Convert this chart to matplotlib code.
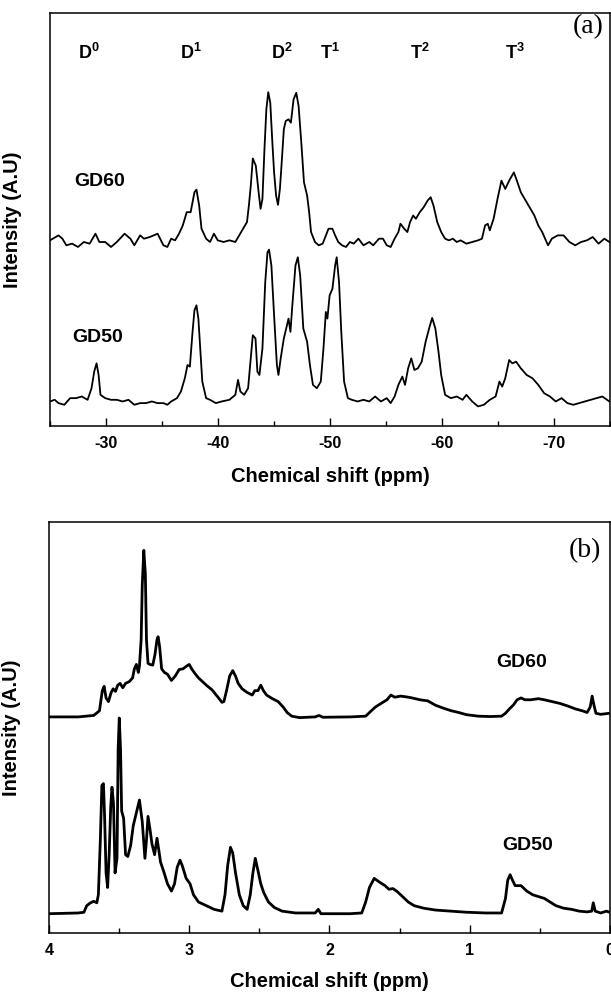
import matplotlib
matplotlib.use("Agg")
import matplotlib.pyplot as plt
from matplotlib.ticker import MultipleLocator

plt.rcParams['font.family'] = ['Liberation Sans', 'DejaVu Sans']
plt.rcParams['font.weight'] = 'bold'
plt.rcParams['axes.unicode_minus'] = False
plt.rcParams['mathtext.fontset'] = 'custom'
plt.rcParams['mathtext.rm'] = 'Liberation Sans:bold'
plt.rcParams['mathtext.bf'] = 'Liberation Sans:bold'

# ---------------- (a) 29Si NMR ----------------
si_ppm_gd60 = [-25.0, -25.76, -26.11, -26.46, -26.98, -27.50, -28.02, -28.54, -29.06, -29.41,
               -29.93, -30.45, -30.97, -31.66, -32.18, -32.53, -33.05, -33.39, -33.91, -34.61,
               -35.13, -35.48, -35.82, -36.17, -36.52, -36.86, -37.21, -37.56, -37.90, -38.08,
               -38.32, -38.53, -38.94, -39.29, -39.64, -39.98, -40.50, -41.02, -41.55, -41.89,
               -42.24, -42.59, -42.76, -42.93, -43.11, -43.38, -43.63, -43.80, -43.97, -44.15,
               -44.32, -44.49, -44.67, -44.84, -45.01, -45.19, -45.36, -45.53, -45.71, -45.88,
               -46.05, -46.30, -46.51, -46.75, -46.99, -47.20, -47.44, -47.68, -47.96, -48.14,
               -48.31, -48.66, -49.00, -49.35, -49.87, -50.22, -50.46, -50.74, -51.08, -51.43,
               -51.78, -52.12, -52.54, -52.99, -53.51, -53.86, -54.38, -54.73, -55.07, -55.42,
               -55.77, -56.11, -56.29, -56.63, -56.91, -57.15, -57.43, -57.67, -58.02, -58.37,
               -58.72, -58.99, -59.24, -59.58, -59.93, -60.28, -60.62, -60.97, -61.32, -61.66,
               -62.18, -62.70, -63.22, -63.57, -63.85, -64.09, -64.27, -64.61, -64.96, -65.31,
               -65.65, -66.00, -66.42, -66.69, -67.04, -67.56, -67.91, -68.25, -68.60, -68.95,
               -69.47, -69.81, -70.34, -70.86, -71.38, -71.90, -72.42, -72.94, -73.46, -73.98,
               -74.50, -74.95]
si_int_gd60 = [0.5, 2.0, 1.0, -1.0, -0.5, -1.5, 0.0, -0.5, 2.5, 0.0,
               0.0, -1.5, 0.0, 2.5, 1.0, -1.0, 2.0, 1.0, 1.5, 2.5,
               -1.0, -1.5, 1.0, 0.5, 2.5, 5.0, 9.0, 9.0, 15.0, 15.8,
               11.0, 4.0, 1.0, 0.0, 2.5, 0.5, 0.0, 0.5, 0.0, 2.0,
               4.0, 6.0, 11.0, 17.0, 25.2, 23.0, 15.0, 10.0, 13.0, 28.0,
               40.0, 45.2, 42.0, 31.0, 21.0, 14.0, 11.2, 16.0, 25.0, 34.0,
               36.5, 37.0, 36.0, 43.0, 45.0, 41.0, 30.0, 18.0, 14.0, 9.0,
               3.0, 0.0, -1.0, -0.5, 4.0, 4.0, 2.0, 0.0, -1.0, -1.5,
               0.0, -0.5, 1.0, -1.0, 0.0, -1.0, 1.0, 1.0, -1.0, -1.5,
               1.0, 3.0, 5.5, 4.0, 3.0, 6.0, 8.0, 7.0, 9.0, 10.5,
               12.5, 13.5, 11.0, 6.0, 3.0, 1.0, 0.5, 1.0, 0.0, 0.5,
               -0.5, 0.0, 0.5, 1.0, 5.0, 5.5, 3.5, 7.0, 13.0, 18.5,
               16.0, 18.5, 21.0, 18.5, 15.0, 12.0, 10.0, 8.0, 5.0, 3.0,
               -1.0, 1.0, 2.0, 2.0, 0.0, -1.0, 0.0, 0.5, 1.5, -0.5,
               1.0, 0.0]

si_ppm_gd50 = [-25.0, -25.42, -25.76, -26.28, -26.80, -27.32, -27.84, -28.36, -28.71, -28.95,
               -29.16, -29.34, -29.51, -29.93, -30.45, -30.97, -31.49, -32.01, -32.53, -33.05,
               -33.57, -34.09, -34.61, -35.13, -35.48, -35.82, -36.34, -36.69, -37.04, -37.28,
               -37.49, -37.73, -37.90, -38.08, -38.25, -38.42, -38.60, -38.94, -39.29, -39.81,
               -40.33, -41.02, -41.55, -41.79, -42.00, -42.34, -42.69, -42.93, -43.11, -43.35,
               -43.52, -43.70, -43.97, -44.22, -44.42, -44.56, -44.77, -45.01, -45.26, -45.40,
               -45.60, -45.88, -46.16, -46.30, -46.47, -46.64, -46.92, -47.13, -47.34, -47.62,
               -47.96, -48.21, -48.48, -48.83, -49.18, -49.42, -49.63, -49.77, -49.97, -50.22,
               -50.46, -50.60, -50.81, -51.01, -51.26, -51.60, -51.95, -52.47, -52.99, -53.51,
               -54.03, -54.55, -55.07, -55.42, -55.77, -56.11, -56.46, -56.70, -56.98, -57.26,
               -57.54, -57.85, -58.19, -58.54, -58.89, -59.13, -59.41, -59.69, -59.93, -60.28,
               -60.80, -61.32, -61.84, -62.18, -62.70, -63.22, -63.74, -64.27, -64.79, -65.13,
               -65.38, -65.65, -66.00, -66.28, -66.62, -67.04, -67.56, -68.08, -68.60, -69.12,
               -69.64, -70.16, -70.68, -71.20, -71.72, -72.24, -72.76, -73.28, -73.80, -74.32,
               -74.95]
si_int_gd50 = [0.5, 1.0, 0.0, -0.5, 1.5, 1.5, 2.0, 1.0, 4.5, 9.5,
               12.0, 8.5, 2.5, 1.5, 1.0, 1.0, 0.5, 1.0, -0.5, 0.0,
               0.0, 0.5, 0.0, 0.0, -0.5, 0.5, 1.5, 3.5, 7.5, 11.5,
               11.0, 21.5, 28.0, 29.5, 25.5, 16.5, 6.5, 1.5, 1.0, 0.0,
               0.5, 1.0, 2.5, 7.0, 3.5, 2.5, 4.5, 13.5, 20.5, 19.5,
               9.5, 8.5, 16.5, 36.5, 45.5, 46.3, 41.5, 26.5, 11.5, 8.5,
               13.5, 19.5, 23.5, 25.5, 21.5, 29.5, 41.5, 44.0, 38.5, 22.5,
               18.5, 11.5, 5.5, 4.5, 6.5, 16.5, 27.5, 25.5, 32.5, 34.5,
               41.5, 44.0, 36.5, 21.5, 6.5, 1.5, 1.0, 0.5, 1.0, 0.5,
               2.0, 0.5, 1.5, 0.0, 2.0, 5.5, 8.0, 5.5, 10.5, 13.5,
               10.0, 10.5, 12.5, 18.5, 23.0, 25.7, 22.5, 15.5, 8.5, 2.5,
               1.5, 2.0, 1.0, 2.5, 0.5, -1.0, -0.5, 1.0, 2.0, 6.5,
               5.0, 7.5, 13.0, 12.0, 12.5, 10.5, 8.5, 7.5, 5.5, 3.0,
               2.0, 0.5, 1.5, 0.0, -0.5, 0.0, 0.5, 1.0, 1.5, 2.0,
               0.5]

si_offset_gd60 = 48.6
si_peak_labels = [r'$\mathbf{D^0}$', r'$\mathbf{D^1}$', r'$\mathbf{D^2}$',
                  r'$\mathbf{T^1}$', r'$\mathbf{T^2}$', r'$\mathbf{T^3}$']
si_peak_pos = [-28.5, -37.6, -45.7, -50.0, -58.0, -66.5]

# ---------------- (b) 1H NMR ----------------
h_ppm_gd60 = [4.000, 3.792, 3.681, 3.640, 3.620, 3.607, 3.593, 3.576, 3.557, 3.543,
              3.526, 3.510, 3.493, 3.474, 3.454, 3.427, 3.404, 3.391, 3.377, 3.363,
              3.355, 3.343, 3.335, 3.324, 3.313, 3.305, 3.294, 3.280, 3.260, 3.244,
              3.230, 3.222, 3.211, 3.197, 3.177, 3.155, 3.127, 3.100, 3.072, 3.044,
              3.017, 3.000, 2.983, 2.961, 2.934, 2.906, 2.878, 2.837, 2.795, 2.767,
              2.753, 2.734, 2.712, 2.690, 2.670, 2.651, 2.623, 2.587, 2.551, 2.532,
              2.510, 2.490, 2.471, 2.449, 2.407, 2.366, 2.330, 2.302, 2.269, 2.213,
              2.158, 2.102, 2.075, 2.047, 1.853, 1.742, 1.715, 1.673, 1.632, 1.590,
              1.562, 1.535, 1.493, 1.452, 1.410, 1.355, 1.299, 1.244, 1.188, 1.133,
              1.078, 1.022, 0.939, 0.856, 0.773, 0.745, 0.717, 0.690, 0.662, 0.634,
              0.607, 0.565, 0.510, 0.468, 0.413, 0.357, 0.302, 0.247, 0.191, 0.163,
              0.141, 0.127, 0.114, 0.100, 0.066, 0.025, 0.003]
h_int_gd60 = [0.0, 0.0, 0.4, 1.7, 7.2, 8.4, 5.2, 4.2, 6.7, 7.7,
              7.0, 8.7, 9.2, 8.0, 9.2, 9.7, 10.7, 13.2, 14.4, 12.2,
              14.0, 21.2, 36.2, 45.7, 39.2, 21.2, 14.7, 14.4, 14.2, 17.2,
              21.2, 22.0, 19.2, 13.2, 12.2, 11.7, 10.0, 11.2, 13.0, 13.2,
              14.0, 14.4, 13.2, 12.0, 10.7, 9.7, 8.7, 7.4, 5.4, 4.0,
              4.2, 7.2, 11.2, 12.7, 11.2, 9.2, 7.7, 6.7, 6.0, 7.2,
              7.2, 8.7, 7.2, 6.0, 5.0, 4.2, 2.7, 1.2, 0.2, -0.2,
              -0.1, 0.0, 0.4, -0.1, 0.0, 0.2, 1.2, 2.7, 3.7, 4.7,
              6.0, 5.4, 5.7, 5.5, 5.2, 4.7, 4.4, 3.2, 2.4, 1.7,
              1.2, 0.6, 0.2, 0.1, 0.2, 1.0, 2.2, 3.2, 4.7, 5.2,
              4.7, 4.7, 5.0, 4.7, 4.2, 3.7, 3.0, 2.2, 1.6, 1.2,
              2.7, 5.7, 3.2, 1.0, 0.7, 0.9, 1.0]

h_ppm_gd50 = [4.000, 3.792, 3.751, 3.731, 3.704, 3.681, 3.659, 3.648, 3.634, 3.623,
              3.612, 3.604, 3.593, 3.582, 3.571, 3.560, 3.551, 3.540, 3.529, 3.515,
              3.507, 3.499, 3.490, 3.482, 3.468, 3.454, 3.438, 3.418, 3.399, 3.377,
              3.355, 3.335, 3.316, 3.305, 3.294, 3.280, 3.266, 3.247, 3.230, 3.216,
              3.205, 3.183, 3.155, 3.127, 3.105, 3.086, 3.066, 3.050, 3.022, 2.994,
              2.970, 2.934, 2.878, 2.823, 2.767, 2.745, 2.726, 2.706, 2.690, 2.670,
              2.643, 2.615, 2.587, 2.565, 2.546, 2.529, 2.512, 2.490, 2.468, 2.435,
              2.393, 2.338, 2.241, 2.158, 2.102, 2.080, 2.061, 1.853, 1.770, 1.742,
              1.715, 1.681, 1.645, 1.604, 1.576, 1.548, 1.521, 1.479, 1.438, 1.396,
              1.327, 1.244, 1.133, 1.022, 0.884, 0.773, 0.745, 0.729, 0.712, 0.695,
              0.676, 0.634, 0.593, 0.551, 0.510, 0.468, 0.427, 0.385, 0.330, 0.274,
              0.219, 0.163, 0.130, 0.119, 0.105, 0.066, 0.025, 0.003]
h_int_gd50 = [-0.2, 0.0, 0.2, 2.0, 2.8, 3.2, 2.8, 5.0, 20.0, 35.0,
              35.5, 27.0, 11.0, 7.0, 16.0, 29.0, 34.5, 30.0, 11.0, 15.0,
              45.0, 53.5, 45.0, 28.0, 26.0, 16.0, 15.5, 18.5, 24.0, 27.5,
              31.0, 25.0, 15.0, 20.0, 26.5, 23.0, 19.0, 16.0, 20.5, 17.0,
              14.0, 11.5, 8.0, 6.0, 8.0, 12.5, 14.5, 13.0, 9.5, 8.0,
              5.0, 3.0, 2.0, 1.0, 0.5, 5.0, 13.0, 18.0, 16.5, 11.0,
              5.0, 2.0, 1.0, 5.0, 11.0, 15.0, 12.0, 8.0, 5.5, 3.0,
              1.5, 0.5, 0.0, 0.0, 0.0, 1.0, -0.2, -0.2, 0.0, 3.0,
              7.0, 9.5, 8.5, 7.5, 6.5, 6.7, 6.0, 4.5, 3.0, 2.0,
              1.3, 0.8, 0.5, 0.2, 0.0, 0.0, 4.0, 9.0, 10.5, 9.0,
              7.5, 7.5, 6.0, 5.0, 4.5, 4.0, 3.0, 2.0, 1.3, 1.0,
              0.5, 0.3, 0.5, 2.8, 0.5, 0.0, 0.5, 0.2]

h_offset_gd60 = 53.8

fig = plt.figure(figsize=(6.11, 9.93), dpi=100)
ax1 = fig.add_axes([0.0818, 0.571, 0.9165, 0.416])
ax2 = fig.add_axes([0.0802, 0.0604, 0.9181, 0.414])

# (a)
ax1.plot(si_ppm_gd60, [v + si_offset_gd60 for v in si_int_gd60], color='black', lw=1.3)
ax1.plot(si_ppm_gd50, si_int_gd50, color='black', lw=1.3)
ax1.set_xlim(-25, -75)
ax1.set_ylim(-6.9, 117.7)
ax1.xaxis.set_major_locator(MultipleLocator(10))
ax1.xaxis.set_minor_locator(MultipleLocator(5))
for lab, pos in zip(si_peak_labels, si_peak_pos):
    ax1.text(pos, 0.903, lab, transform=ax1.get_xaxis_transform(), ha='center', va='center',
             fontsize=13)
ax1.text(0.043, 0.593, 'GD60', transform=ax1.transAxes, ha='left', va='center', fontsize=14)
ax1.text(0.040, 0.215, 'GD50', transform=ax1.transAxes, ha='left', va='center', fontsize=14)
ax1.text(0.962, 0.966, '(a)', transform=ax1.transAxes, ha='center', va='center',
         fontsize=20, family='Liberation Serif', weight='normal')

# (b)
ax2.plot(h_ppm_gd60, [v + h_offset_gd60 for v in h_int_gd60], color='black', lw=2.0)
ax2.plot(h_ppm_gd50, h_int_gd50, color='black', lw=2.0)
ax2.set_xlim(4, 0)
ax2.set_ylim(-5.5, 107.3)
ax2.xaxis.set_major_locator(MultipleLocator(1))
ax2.xaxis.set_minor_locator(MultipleLocator(0.5))
ax2.text(0.63, 0.659, 'GD60', transform=ax2.get_xaxis_transform(), ha='center', va='center', fontsize=14)
ax2.text(0.59, 0.212, 'GD50', transform=ax2.get_xaxis_transform(), ha='center', va='center', fontsize=14)
ax2.text(0.955, 0.930, '(b)', transform=ax2.transAxes, ha='center', va='center',
         fontsize=20, family='Liberation Serif', weight='normal')

for ax in (ax1, ax2):
    ax.set_yticks([])
    ax.tick_params(axis='x', which='major', direction='in', length=6, width=1.0,
                   labelsize=11.5, pad=7)
    ax.tick_params(axis='x', which='minor', direction='in', length=3.5, width=1.0)
    for sp in ax.spines.values():
        sp.set_linewidth(1.1)
    ax.set_xlabel('Chemical shift (ppm)', fontsize=14.5, fontweight='bold', labelpad=12)
    ax.set_ylabel('Intensity (A.U)', fontsize=14.5, fontweight='bold')
    ax.yaxis.set_label_coords(-0.05, 0.5)

ax2.xaxis.labelpad = 10

fig.savefig('out.png', dpi=100)
